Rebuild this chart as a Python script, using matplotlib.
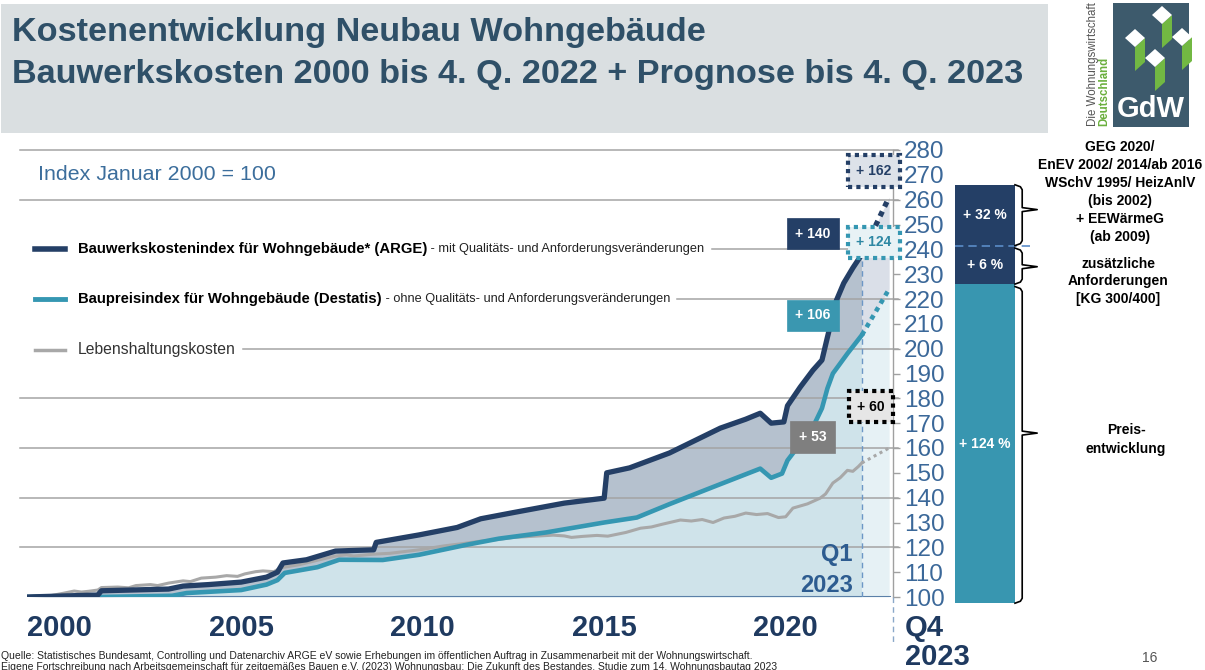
import numpy as np
import matplotlib
matplotlib.use('Agg')
import matplotlib.pyplot as plt
from matplotlib.patches import Rectangle, Polygon
from matplotlib.lines import Line2D
from matplotlib.transforms import blended_transform_factory

plt.rcParams['font.family'] = ['Liberation Sans', 'DejaVu Sans']

# ---------------- data ----------------
arge_t = [2000.0, 2001.95, 2002.05, 2003.9, 2004.3, 2005.0, 2005.9, 2006.6, 2006.9,
          2007.05, 2007.7, 2008.5, 2009.55, 2009.62, 2010.8, 2011.85, 2012.5, 2013.4,
          2014.8, 2015.9, 2015.97, 2016.6, 2017.7, 2018.4, 2019.1, 2019.8, 2020.2,
          2020.5, 2020.85, 2020.95, 2021.3, 2021.65, 2021.9, 2022.05, 2022.3, 2022.5,
          2022.75, 2023.0]
arge_v = [100.0, 100.8, 102.5, 103.2, 104.4, 105.0, 106.0, 108.0, 110.0,
          113.7, 115.0, 118.5, 119.0, 122.0, 125.0, 128.0, 131.5, 134.0,
          137.8, 139.8, 150.0, 152.0, 158.0, 163.0, 168.0, 171.6, 174.0,
          170.0, 170.5, 177.0, 184.5, 191.3, 195.4, 204.6, 219.5, 226.4,
          232.5, 238.0]
arge_prog_t = [2023.0, 2023.75]
arge_prog_v = [238.0, 261.0]

bp_t = [2000.0, 2002.0, 2004.0, 2004.4, 2005.9, 2006.6, 2006.9, 2007.1, 2008.0,
        2008.6, 2009.8, 2010.8, 2012.1, 2013.0, 2014.3, 2015.9, 2016.8, 2017.7,
        2018.9, 2020.2, 2020.5, 2020.8, 2020.95, 2021.65, 2021.9, 2022.05, 2022.2,
        2022.6, 2023.0]
bp_v = [100.0, 100.0, 100.5, 101.6, 102.8, 105.0, 106.8, 109.7, 112.0,
        115.0, 114.9, 117.0, 121.0, 123.5, 126.0, 130.0, 132.0, 137.4,
        144.3, 151.7, 148.0, 149.7, 155.0, 168.4, 176.0, 184.0, 190.0,
        198.0, 205.5]
bp_prog_t = [2023.0, 2023.75]
bp_prog_v = [205.5, 224.0]

cpi_t = [2000.0, 2000.3, 2000.6, 2001.0, 2001.3, 2001.5, 2001.7, 2001.95, 2002.05,
         2002.5, 2002.8, 2003.0, 2003.4, 2003.6, 2003.9, 2004.3, 2004.5, 2004.8,
         2005.2, 2005.5, 2005.8, 2006.0, 2006.3, 2006.5, 2006.8, 2007.0, 2007.5,
         2008.0, 2008.5, 2008.8, 2009.0, 2009.5, 2010.0, 2010.4, 2010.8, 2011.5,
         2012.0, 2012.5, 2013.0, 2013.4, 2014.0, 2014.5, 2014.8, 2015.0, 2015.3,
         2015.7, 2016.0, 2016.5, 2016.9, 2017.2, 2017.5, 2018.0, 2018.3, 2018.6,
         2018.9, 2019.2, 2019.5, 2019.8, 2020.1, 2020.4, 2020.7, 2020.9, 2021.1,
         2021.5, 2021.85, 2022.0, 2022.2, 2022.4, 2022.6, 2022.75, 2022.9, 2023.0]
cpi_v = [100.0, 100.6, 100.4, 101.5, 102.4, 102.0, 102.3, 102.8, 103.8,
         104.0, 103.7, 104.6, 105.0, 104.6, 105.6, 106.5, 106.2, 107.6,
         108.0, 108.6, 108.3, 109.3, 110.2, 110.5, 110.2, 111.8, 113.0,
         114.8, 116.5, 117.0, 116.5, 117.2, 117.6, 118.3, 119.0, 120.6,
         121.5, 122.5, 123.2, 124.0, 124.5, 124.9, 124.6, 124.0, 124.4,
         124.8, 124.5, 126.0, 127.7, 128.2, 129.3, 131.0, 130.6, 131.2,
         130.0, 131.8, 132.5, 133.8, 133.2, 133.6, 132.0, 132.3, 135.8,
         137.5, 139.8, 141.5, 145.9, 148.0, 151.0, 150.6, 152.5, 154.0]
cpi_prog_t = [2023.0, 2023.75]
cpi_prog_v = [154.0, 160.0]

year_labels = [2000, 2005, 2010, 2015, 2020]
y_ticks = list(range(100, 281, 10))
grid_levels = list(range(120, 281, 20))

ann_labels = ['+ 140', '+ 124', '+ 162', '+ 106', '+ 60', '+ 53']

bar_bottom = 97.5
bar_bounds = [226.0, 241.5, 266.0]
bar_labels = ['+ 124 %', '+ 6 %', '+ 32 %']

legend_names = ['Bauwerkskostenindex für Wohngebäude* (ARGE)',
                'Baupreisindex für Wohngebäude (Destatis)',
                'Lebenshaltungskosten']
legend_notes = [' - mit Qualitäts- und Anforderungsveränderungen',
                ' - ohne Qualitäts- und Anforderungsveränderungen',
                '']

# ---------------- colours ----------------
NAVY = '#243f66'
TEAL = '#3597b2'
GREY = '#a8a8a8'
FILL_LB = '#cfe3ea'
FILL_GB = '#b5c1ce'
FILL_LB_P = '#e6f1f5'
FILL_GB_P = '#dadfe8'
AXBLUE = '#3b6899'
YEARC = '#1f3a60'

W, H = 1205, 670
fig = plt.figure(figsize=(W / 100, H / 100), dpi=100)


def fx(x):
    return x / W


def fy(y):
    return 1 - y / H


def P(x, y):
    return (fx(x), fy(y))


# ---------------- header banner ----------------
fig.patches.append(Rectangle(P(1, 133), fx(1048) - fx(1), fy(4) - fy(133),
                             transform=fig.transFigure, fc='#dadfe1', ec='none', zorder=0))
fig.text(fx(12), fy(33), 'Kostenentwicklung Neubau Wohngebäude', fontsize=24.7,
         weight='bold', color='#2f5068', va='center')
fig.text(fx(12), fy(74), 'Bauwerkskosten 2000 bis 4. Q. 2022 + Prognose bis 4. Q. 2023',
         fontsize=24.7, weight='bold', color='#2f5068', va='center')

# ---------------- logo ----------------
fig.patches.append(Rectangle(P(1113, 127), fx(1189) - fx(1113), fy(3) - fy(127),
                             transform=fig.transFigure, fc='#3d5a6c', ec='none', zorder=1))
for (cx, cy) in [(1162, 15), (1135, 38), (1182, 37), (1155, 58)]:
    green = [P(cx, cy + 9), P(cx + 10, cy), P(cx + 10, cy + 24), P(cx, cy + 33)]
    fig.patches.append(Polygon(green, closed=True, transform=fig.transFigure,
                               fc='#72b843', ec='none', zorder=2))
    dia = [P(cx - 10, cy), P(cx, cy - 9), P(cx + 10, cy), P(cx, cy + 9)]
    fig.patches.append(Polygon(dia, closed=True, transform=fig.transFigure,
                               fc='white', ec='none', zorder=3))
fig.text(fx(1151), fy(109), 'GdW', fontsize=21, weight='bold', color='white',
         ha='center', va='center', zorder=4)
fig.text(fx(1093), fy(126), 'Die Wohnungswirtschaft', rotation=90, rotation_mode='anchor',
         ha='left', va='center', fontsize=8.3, color='#555555')
fig.text(fx(1104), fy(126), 'Deutschland', rotation=90, rotation_mode='anchor',
         ha='left', va='center', fontsize=8.3, color='#6aaf3d', weight='bold')

# ---------------- main axes ----------------
ax_l, ax_r, ax_t, ax_b = 27, 893, 150, 597
ax = fig.add_axes([fx(ax_l), fy(ax_b), fx(ax_r) - fx(ax_l), fy(ax_t) - fy(ax_b)])
ax.patch.set_visible(False)
px_per_year = 36.3
ax.set_xlim(2000, 2000 + (ax_r - ax_l) / px_per_year)
ax.set_ylim(100, 280)

# fills
t_grid = np.union1d(arge_t, bp_t)
arge_i = np.interp(t_grid, arge_t, arge_v)
bp_i = np.interp(t_grid, bp_t, bp_v)
ax.fill_between(t_grid, 100, bp_i, color=FILL_LB, lw=0, zorder=1)
ax.fill_between(t_grid, bp_i, arge_i, color=FILL_GB, lw=0, zorder=1)
ax.fill_between(bp_prog_t, 100, bp_prog_v, color=FILL_LB_P, lw=0, zorder=1)
ax.fill_between(arge_prog_t, bp_prog_v, arge_prog_v, color=FILL_GB_P, lw=0, zorder=1)

# lines
ax.plot(cpi_t, cpi_v, color=GREY, lw=2.2, zorder=4, solid_joinstyle='round')
ax.plot(bp_t, bp_v, color=TEAL, lw=3.3, zorder=5, solid_joinstyle='round')
ax.plot(arge_t, arge_v, color=NAVY, lw=3.8, zorder=6, solid_joinstyle='round')
ax.plot(cpi_prog_t, cpi_prog_v, color=GREY, lw=2.2, ls=(0, (1, 1.2)), zorder=4)
ax.plot(bp_prog_t, bp_prog_v, color=TEAL, lw=3.3, ls=(0, (1, 1)), zorder=5)
ax.plot(arge_prog_t, arge_prog_v, color=NAVY, lw=3.8, ls=(0, (1, 1)), zorder=6)

# baseline and Q1 / Q4 markers
ax.axhline(100, color='#5b80a8', lw=1.5, zorder=3, xmax=(890 - ax_l) / (ax_r - ax_l))
ax.plot([arge_t[-1], arge_t[-1]], [100, arge_v[-1] - 2], color='#6d97c6', lw=1,
        ls=(0, (4, 3)), zorder=3)
xlim_r = ax.get_xlim()[1]
ax.plot([xlim_r, xlim_r], [100, 81], color='#8aa8c8', lw=1, ls=(0, (4, 3)),
        clip_on=False, zorder=3)

# axis styling
for s in ['left', 'top', 'bottom']:
    ax.spines[s].set_visible(False)
ax.spines['right'].set_color('#a0a0a0')
ax.spines['right'].set_linewidth(1)
ax.yaxis.tick_right()
ax.set_yticks(y_ticks)
ax.tick_params(axis='y', length=5, width=1, color='#a0a0a0', labelsize=17.5,
               labelcolor=AXBLUE, pad=3)
ax.set_xticks([y + 0.9 for y in year_labels])
ax.set_xticklabels([str(y) for y in year_labels])
ax.tick_params(axis='x', length=0, labelsize=21, labelcolor=YEARC, pad=12)
for lab in ax.get_xticklabels():
    lab.set_fontweight('bold')

fig.text(fx(905), fy(628), 'Q4', fontsize=21, weight='bold', color=YEARC, va='center')
fig.text(fx(905), fy(657), '2023', fontsize=21, weight='bold', color=YEARC, va='center')
fig.text(fx(853), fy(555), 'Q1', fontsize=17, weight='bold', color='#2d5c90',
         ha='right', va='center')
fig.text(fx(853), fy(585), '2023', fontsize=17, weight='bold', color='#2d5c90',
         ha='right', va='center')

fig.text(fx(38), fy(174), 'Index Januar 2000 = 100', fontsize=15.4, color='#3c6e9c',
         va='center')

# legend rows
leg_rows = [(249, NAVY, 4.0), (299, TEAL, 3.5), (350, GREY, 2.5)]
leg_levels = [240, 220, 200]
note_texts = []
for (yy, col, lw), name, note in zip(leg_rows, legend_names, legend_notes):
    fig.lines.append(Line2D([fx(35), fx(65)], [fy(yy), fy(yy)], transform=fig.transFigure,
                            color=col, lw=lw))
    bold = name != 'Lebenshaltungskosten'
    t1 = fig.text(fx(78), fy(yy), name, fontsize=10.7 if bold else 11.3,
                  weight='bold' if bold else 'normal', color='black' if bold else '#333333',
                  va='center')
    if note:
        t2 = fig.text(0, 0, note, fontsize=9.2, color='#222222', va='center')
        fig.canvas.draw()
        ext = t1.get_window_extent()
        t2.set_position((ext.x1 / W, fy(yy)))
        note_texts.append(t2)
    else:
        note_texts.append(t1)

fig.canvas.draw()
ax_ext = ax.get_window_extent()
for lev in grid_levels:
    xmin = (20 - ax_l) / (ax_r - ax_l)
    if lev in leg_levels:
        t = note_texts[leg_levels.index(lev)]
        xmin = (t.get_window_extent().x1 + 7 - ax_ext.x0) / ax_ext.width
    ax.axhline(lev, xmin=xmin, xmax=(898 - ax_l) / (ax_r - ax_l), color='#a4a4a4',
               lw=1.1, zorder=2, clip_on=False)

# annotation boxes
ann_pos = [(2021.65, 246.3), (2023.33, 242.8), (2023.33, 271.5),
           (2021.65, 213.5), (2023.25, 176.7), (2021.65, 164.4)]
ann_style = [
    dict(fc=NAVY, ec=NAVY, tc='white', ls='-'),
    dict(fc='#e8f2f5', ec=TEAL, tc='#2d87a3', ls=(0, (1, 1))),
    dict(fc='#dde2e9', ec=NAVY, tc=NAVY, ls=(0, (1, 1))),
    dict(fc='#3a97b0', ec='#3a97b0', tc='white', ls='-'),
    dict(fc='#e6e6e6', ec='black', tc='black', ls=(0, (1, 1))),
    dict(fc='#7f7f7f', ec='#7f7f7f', tc='white', ls='-'),
]
for lab, (tx, ty), st in zip(ann_labels, ann_pos, ann_style):
    dotted = st['ls'] != '-'
    ax.text(tx, ty, lab, fontsize=10, weight='bold', color=st['tc'], ha='center',
            va='center', zorder=8, clip_on=False,
            bbox=dict(boxstyle='square,pad=0.62', fc=st['fc'], ec=st['ec'],
                      lw=3 if dotted else 0.5, ls=st['ls']))

# ---------------- right stacked bar ----------------
ax2 = fig.add_axes([fx(955), fy(ax_b), fx(1015) - fx(955), fy(ax_t) - fy(ax_b)])
ax2.set_xlim(0, 1)
ax2.set_ylim(100, 280)
ax2.axis('off')
bar_cols = ['#3896b0', NAVY, NAVY]
lows = [bar_bottom] + bar_bounds[:-1]
for lo, hi, c, lab in zip(lows, bar_bounds, bar_cols, bar_labels):
    ax2.bar(0.5, hi - lo, bottom=lo, width=1.0, color=c, lw=0, clip_on=False)
    ax2.text(0.5, (lo + hi) / 2, lab, color='white', fontsize=10, weight='bold',
             ha='center', va='center', clip_on=False)
ax2.plot([0, 1.25], [bar_bounds[1], bar_bounds[1]], color='#5b8cc8', lw=1.2,
         ls=(0, (5, 3)), clip_on=False)

tr = blended_transform_factory(ax2.transAxes, ax2.transData)
braces = [(bar_bounds[2], bar_bounds[1], 256.0), (bar_bounds[1] - 1, bar_bounds[0], 233.0),
          (bar_bounds[0] - 1, bar_bottom, 166.0)]
for top, bot, tip in braces:
    d = 0.8
    xs = [1.0, 1.09, 1.12, 1.12, 1.37, 1.12, 1.12, 1.09, 1.0]
    ys = [top, top - d, top - 2.5 * d, tip + d, tip, tip - d, bot + 2.5 * d, bot + d, bot]
    ax2.plot(xs, ys, color='black', lw=1.2, transform=tr, clip_on=False)

fig.text(fx(1120), fy(140),
         'GEG 2020/\nEnEV 2002/ 2014/ab 2016\nWSchV 1995/ HeizAnlV\n(bis 2002)\n+ EEWärmeG\n(ab 2009)',
         fontsize=10, weight='bold', ha='center', va='top', linespacing=1.37, color='black')
fig.text(fx(1118), fy(257), 'zusätzliche\nAnforderungen\n[KG 300/400]',
         fontsize=10, weight='bold', ha='center', va='top', linespacing=1.3, color='black')
fig.text(fx(1126), fy(423), 'Preis-\nentwicklung',
         fontsize=10, weight='bold', ha='center', va='top', linespacing=1.45, color='black')

# ---------------- footer ----------------
fig.text(fx(1), fy(656),
         'Quelle: Statistisches Bundesamt, Controlling und Datenarchiv ARGE eV sowie Erhebungen im '
         'öffentlichen Auftrag in Zusammenarbeit mit der Wohnungswirtschaft.',
         fontsize=7.5, color='#222222', va='center')
fig.text(fx(1), fy(667),
         'Eigene Fortschreibung nach Arbeitsgemeinschaft für zeitgemäßes Bauen e.V. (2023) '
         'Wohnungsbau: Die Zukunft des Bestandes. Studie zum 14. Wohnungsbautag 2023',
         fontsize=7.5, color='#222222', va='center')
fig.text(fx(1150), fy(658), '16', fontsize=10, color='#555555', ha='center', va='center')

fig.savefig('out.png', dpi=100)
